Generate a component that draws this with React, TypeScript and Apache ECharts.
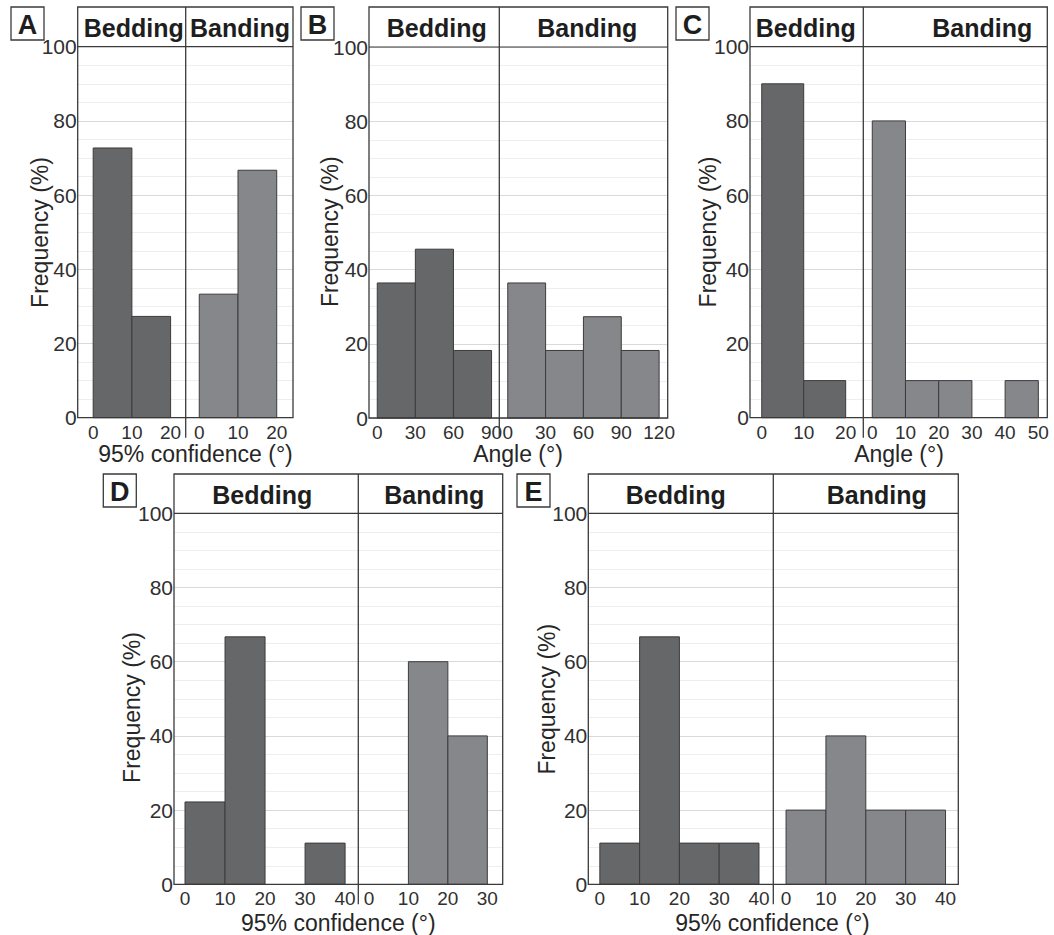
import React, { useEffect, useRef } from "react";
import * as echarts from "echarts";

// ---- data (frequency %, bins start at first tick, width = tick spacing) ----
const ticksA = [0, 10, 20];
const freqA_Bedding = [72.7, 27.3];
const freqA_Banding = [33.3, 66.7];

const ticksB_Bedding = [0, 30, 60, 90];
const ticksB_Banding = [0, 30, 60, 90, 120];
const freqB_Bedding = [36.4, 45.5, 18.2];
const freqB_Banding = [36.4, 18.2, 27.3, 18.2];

const ticksC_Bedding = [0, 10, 20];
const ticksC_Banding = [0, 10, 20, 30, 40, 50];
const freqC_Bedding = [90, 10];
const freqC_Banding = [80, 10, 10, 0, 10];

const ticksD_Bedding = [0, 10, 20, 30, 40];
const ticksD_Banding = [0, 10, 20, 30];
const freqD_Bedding = [22.2, 66.7, 0, 11.1];
const freqD_Banding = [0, 60, 40];

const ticksE = [0, 10, 20, 30, 40];
const freqE_Bedding = [11.1, 66.7, 11.1, 11.1];
const freqE_Banding = [20, 40, 20, 20];

const yTicks = [0, 20, 40, 60, 80, 100];
const stripNames = ["Bedding", "Banding"];
const panelLetters = ["A", "B", "C", "D", "E"];
const xTitles = ["95% confidence (°)", "Angle (°)", "Angle (°)", "95% confidence (°)", "95% confidence (°)"];
const yTitle = "Frequency (%)";

// ---- styling / layout ----
const FONT = "Liberation Sans, Arial, sans-serif";
const BED = "#666769";
const BAN = "#86878a";
const FRAME = "#3a3a3a";

type Facet = {
  panel: number;
  side: number;
  ticks: number[];
  freq: number[];
  fill: string;
  left: number;
  right: number;
  top: number;
  bottom: number;
  min: number;
  max: number;
  stripX: number;
};

const facets: Facet[] = [
  { panel: 0, side: 0, ticks: ticksA, freq: freqA_Bedding, fill: BED, left: 77.7, right: 185.7, top: 46.7, bottom: 417.7, min: -4, max: 23.9, stripX: 133.7 },
  { panel: 0, side: 1, ticks: ticksA, freq: freqA_Banding, fill: BAN, left: 185.7, right: 293, top: 46.7, bottom: 417.7, min: -3.5, max: 24.2, stripX: 240 },
  { panel: 1, side: 0, ticks: ticksB_Bedding, freq: freqB_Bedding, fill: BED, left: 369, right: 499.3, top: 47, bottom: 418, min: -6.5, max: 96.1, stripX: 436.7 },
  { panel: 1, side: 1, ticks: ticksB_Banding, freq: freqB_Banding, fill: BAN, left: 499.3, right: 667.7, top: 47, bottom: 418, min: -6.7, max: 126.8, stripX: 587.3 },
  { panel: 2, side: 0, ticks: ticksC_Bedding, freq: freqC_Bedding, fill: BED, left: 750, right: 863.3, top: 46.7, bottom: 417.7, min: -2.8, max: 24.2, stripX: 805.7 },
  { panel: 2, side: 1, ticks: ticksC_Banding, freq: freqC_Banding, fill: BAN, left: 863.3, right: 1047.3, top: 46.7, bottom: 417.7, min: -2.7, max: 52.7, stripX: 982.3 },
  { panel: 3, side: 0, ticks: ticksD_Bedding, freq: freqD_Bedding, fill: BED, left: 174, right: 358.3, top: 513.3, bottom: 884.3, min: -2.75, max: 43.3, stripX: 262.3 },
  { panel: 3, side: 1, ticks: ticksD_Banding, freq: freqD_Banding, fill: BAN, left: 358.3, right: 502.7, top: 513.3, bottom: 884.3, min: -2.7, max: 33.9, stripX: 434.3 },
  { panel: 4, side: 0, ticks: ticksE, freq: freqE_Bedding, fill: BED, left: 588.3, right: 773.3, top: 513.3, bottom: 884.3, min: -2.9, max: 43.6, stripX: 675.7 },
  { panel: 4, side: 1, ticks: ticksE, freq: freqE_Banding, fill: BAN, left: 773.3, right: 958.3, top: 513.3, bottom: 884.3, min: -3.2, max: 43.2, stripX: 876.7 },
];

// per panel: strip top, letter box, x-title center, y-title center
const panelLayout = [
  { stripTop: 7, box: [11, 7], xt: [195.5, 454], yt: [40, 232.5] },
  { stripTop: 7, box: [301, 7], xt: [518, 454], yt: [330, 231.7] },
  { stripTop: 7, box: [676, 7], xt: [899, 454], yt: [707.7, 232] },
  { stripTop: 474, box: [103.3, 474], xt: [338.3, 923], yt: [132.3, 707.5] },
  { stripTop: 474, box: [517, 474], xt: [772.5, 923], yt: [547.3, 699.2] },
];

function buildOption() {
  const grid: any[] = [];
  const xAxis: any[] = [];
  const yAxis: any[] = [];
  const series: any[] = [];
  const graphic: any[] = [];

  facets.forEach((f, i) => {
    grid.push({ left: f.left, top: f.top, width: f.right - f.left, height: f.bottom - f.top, containLabel: false });
    xAxis.push({
      type: "value",
      gridIndex: i,
      min: f.min,
      max: f.max,
      axisLine: { show: false },
      axisTick: { show: false },
      splitLine: { show: false },
      axisLabel: {
        customValues: f.ticks,
        fontSize: 19,
        lineHeight: 15,
        color: "#303030",
        fontFamily: FONT,
        margin: 7,
      },
    });
    yAxis.push({
      type: "value",
      gridIndex: i,
      min: 0,
      max: 100,
      interval: 20,
      axisLine: { show: false },
      axisTick: { show: false },
      axisLabel: {
        show: f.side === 0,
        customValues: yTicks,
        fontSize: 21,
        lineHeight: 16,
        padding: [4, 0, 0, 0],
        color: "#303030",
        fontFamily: FONT,
        margin: 1,
      },
      splitLine: { show: true, lineStyle: { color: "#d9d9d9", width: 1 } },
      minorTick: { show: false, splitNumber: 4 },
      minorSplitLine: { show: true, lineStyle: { color: "#eeeeee", width: 1 } },
    });
    const step = f.ticks[1] - f.ticks[0];
    const data = f.freq.map((v, k) => [f.ticks[0] + k * step, f.ticks[0] + (k + 1) * step, v]);
    series.push({
      type: "custom",
      xAxisIndex: i,
      yAxisIndex: i,
      encode: { x: [0, 1], y: 2 },
      data,
      z: 5,
      renderItem: (params: any, api: any) => {
        const v = api.value(2);
        if (!v) return null;
        const p0 = api.coord([api.value(0), 0]);
        const p1 = api.coord([api.value(1), v]);
        return {
          type: "rect",
          shape: { x: p0[0], y: p1[1], width: p1[0] - p0[0], height: p0[1] - p1[1] },
          style: { fill: f.fill, stroke: "#3c3c3c", lineWidth: 1 },
        };
      },
    });
    // strip label
    const pl = panelLayout[f.panel];
    graphic.push({
      type: "text",
      x: f.stripX,
      y: (pl.stripTop + f.top) / 2 + 1,
      z: 20,
      style: {
        text: stripNames[f.side],
        font: `bold 25px ${FONT}`,
        fill: "#1e1e1e",
        align: "center",
        verticalAlign: "middle",
      },
    });
  });

  // frames
  panelLayout.forEach((pl, p) => {
    const fs = facets.filter((f) => f.panel === p);
    const left = fs[0].left;
    const mid = fs[0].right;
    const right = fs[1].right;
    const top = fs[0].top;
    const bottom = fs[0].bottom;
    graphic.push({
      type: "rect",
      z: 30,
      shape: { x: left, y: pl.stripTop, width: right - left, height: bottom - pl.stripTop },
      style: { fill: "none", stroke: FRAME, lineWidth: 1.3 },
    });
    graphic.push({
      type: "line",
      z: 30,
      shape: { x1: left, y1: top, x2: right, y2: top },
      style: { stroke: FRAME, lineWidth: 1.2 },
    });
    graphic.push({
      type: "line",
      z: 30,
      shape: { x1: mid, y1: pl.stripTop, x2: mid, y2: bottom + 20 },
      style: { stroke: FRAME, lineWidth: 1.3 },
    });
    // panel letter
    graphic.push({
      type: "rect",
      z: 30,
      shape: { x: pl.box[0], y: pl.box[1], width: 33, height: 33 },
      style: { fill: "#fff", stroke: FRAME, lineWidth: 1.3 },
    });
    graphic.push({
      type: "text",
      z: 31,
      x: pl.box[0] + 16.5,
      y: pl.box[1] + 17.5,
      style: {
        text: panelLetters[p],
        font: `bold 27px ${FONT}`,
        fill: "#1e1e1e",
        align: "center",
        verticalAlign: "middle",
      },
    });
    // axis titles
    graphic.push({
      type: "text",
      z: 30,
      x: pl.xt[0],
      y: pl.xt[1],
      style: {
        text: xTitles[p],
        font: `23px ${FONT}`,
        lineHeight: 18,
        fill: "#262626",
        align: "center",
        verticalAlign: "middle",
      },
    });
    graphic.push({
      type: "text",
      z: 30,
      x: pl.yt[0],
      y: pl.yt[1],
      rotation: Math.PI / 2,
      style: {
        text: yTitle,
        font: `23px ${FONT}`,
        lineHeight: 18,
        fill: "#262626",
        align: "center",
        verticalAlign: "middle",
      },
    });
  });

  return {
    animation: false,
    backgroundColor: "#ffffff",
    textStyle: { fontFamily: FONT },
    grid,
    xAxis,
    yAxis,
    series,
    graphic,
  };
}

export default function App() {
  const ref = useRef<HTMLDivElement>(null);
  useEffect(() => {
    if (!ref.current) return;
    const chart = echarts.init(ref.current, undefined, { renderer: "svg" });
    chart.setOption(buildOption() as any);
    return () => chart.dispose();
  }, []);
  return (
    <div
      ref={ref}
      style={{ position: "absolute", left: 0, top: 0, width: 1054, height: 935, background: "#fff" }}
    />
  );
}
